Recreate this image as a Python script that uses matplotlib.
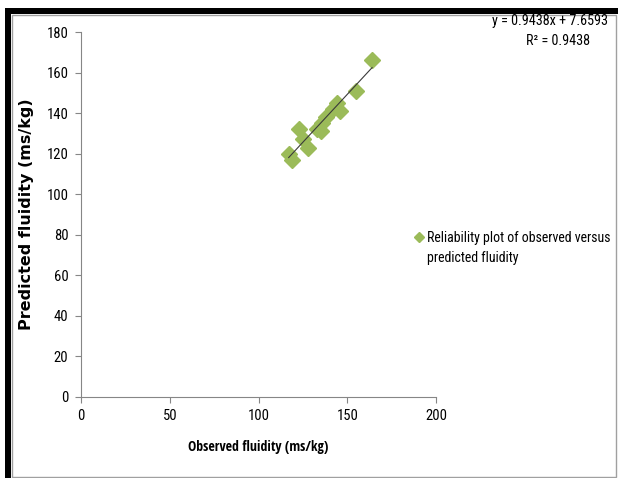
import matplotlib.pyplot as plt
from matplotlib import font_manager
from matplotlib.patches import Rectangle
import numpy as np

# dati
observed = [117, 119, 123, 125, 128, 133, 135, 136, 138, 142, 144, 146, 155, 164]
predicted = [120, 117, 132, 127, 123, 132, 131, 135, 138, 142, 145, 141, 151, 166]

slope = 0.9438
intercept = 7.6593
r2 = 0.9438

x_ticks = [0, 50, 100, 150, 200]
y_ticks = [0, 20, 40, 60, 80, 100, 120, 140, 160, 180]

legend_lines = ['Reliability plot of observed versus', 'predicted fluidity']

# cerca un font stretto tipo Calibri (regular e bold)
fonts = [(f.name, f.weight) for f in font_manager.fontManager.ttflist]
candidates = ['Liberation Sans Narrow', 'DejaVu Sans Condensed', 'Open Sans Condensed', 'Roboto Condensed']


def pick(weights):
    for name in candidates:
        for n, w in fonts:
            if n == name and w in weights:
                return n, w
    return None


reg = pick([400, 'normal', 'regular', 'book'])
if reg is None:
    reg = pick([300, 'light'])
bold = pick([700, 'bold'])
scale = 1.0
if reg is None:
    reg = ('Liberation Sans', 400)
    scale = 0.86
if bold is None:
    bold = (reg[0], 700)

plt.rcParams['font.family'] = [reg[0], 'DejaVu Sans']
plt.rcParams['font.weight'] = reg[1]

fig = plt.figure(figsize=(6.18, 4.78), dpi=100)
W, H = 618, 478

# cornice: bordo nero spesso in alto e a sinistra, grigio sottile altrove
fig.patches.append(Rectangle((5 / W, 0), 6 / W, (478 - 8) / H, transform=fig.transFigure,
                             facecolor='black', edgecolor='none'))
fig.patches.append(Rectangle((5 / W, (478 - 14) / H), (618 - 5) / W, 6 / H, transform=fig.transFigure,
                             facecolor='black', edgecolor='none'))
fig.patches.append(Rectangle((11.5 / W, 1 / H), (615.5 - 11.5) / W, (478 - 14.5 - 1) / H,
                             transform=fig.transFigure, facecolor='none', edgecolor='#a0a0a0', lw=1))

ax = fig.add_axes([81 / W, (478 - 397) / H, 355 / W, 365 / H])

ax.plot(observed, predicted, linestyle='none', marker='D', markersize=8.5,
        color='#9BBB59', label=legend_lines[0])

xs = np.array([min(observed), max(observed)])
ax.plot(xs, slope * xs + intercept, color='#3a3a3a', lw=0.8)

ax.set_xlim(0, 200)
ax.set_ylim(0, 180)
ax.set_xticks(x_ticks)
ax.set_yticks(y_ticks)
ax.tick_params(direction='out', length=4, width=0.8, color='#868686', labelsize=10.5 * scale, pad=5)
for side in ['top', 'right']:
    ax.spines[side].set_visible(False)
for side in ['left', 'bottom']:
    ax.spines[side].set_color('#868686')
    ax.spines[side].set_linewidth(0.8)

ax.set_xlabel('Observed fluidity (ms/kg)', fontsize=10 * scale, fontweight=bold[1],
              family=[bold[0], 'DejaVu Sans'], labelpad=12)
ax.set_ylabel('Predicted fluidity (ms/kg)', fontsize=11.5, fontweight='bold',
              family=['DejaVu Sans'], labelpad=9)

fig.text(550 / W, 1 - 21 / H, 'y = %.4fx + %.4f' % (slope, intercept), ha='center', va='center',
         fontsize=10.2 * scale)
fig.text(558 / W, 1 - 41 / H, 'R² = %.4f' % r2, ha='center', va='center', fontsize=10.2 * scale)

leg = fig.legend(loc='upper left', bbox_to_anchor=(406 / W, 1 - 225 / H), frameon=False,
                 fontsize=10 * scale, handletextpad=0.1, handlelength=1.0, markerscale=0.65,
                 borderaxespad=0)

# seconda riga della legenda, allineata al testo della prima
fig.canvas.draw()
bb = leg.get_texts()[0].get_window_extent()
fig.text(bb.x0 / W, (bb.y0 - 20) / H, legend_lines[1], ha='left', va='bottom',
         fontsize=10 * scale)

fig.savefig('out.png', dpi=100)
